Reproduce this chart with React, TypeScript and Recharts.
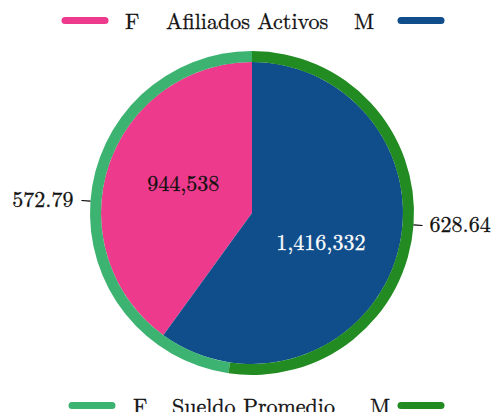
import React from 'react';
import { PieChart, Pie, Cell } from 'recharts';

const sexes = ['F', 'M'];
const afiliados = [944538, 1416332];
const sueldos = [572.79, 628.64];

const innerColors = ['#EE3A8C', '#104E8B'];
const outerColors = ['#3CB371', '#228B22'];
const innerTextColors = ['#111111', '#ffffff'];

const FONT = "'Latin Modern Roman', 'Liberation Serif', serif";
const RAD = Math.PI / 180;

const innerData = sexes.map((s, i) => ({ name: s, value: afiliados[i] }));
const outerData = sexes.map((s, i) => ({ name: s, value: sueldos[i] }));

const InnerLabel = (props: any) => {
  const { cx, cy, midAngle, index, value } = props;
  const a = (midAngle - 5.5) * RAD;
  const r = 75;
  const x = cx + r * Math.cos(a);
  const y = cy - r * Math.sin(a);
  return (
    <text x={x} y={y + 7.5} fill={innerTextColors[index]} textAnchor="middle"
      fontFamily={FONT} fontSize={22} stroke={innerTextColors[index]} strokeWidth={0.3}>
      {value.toLocaleString('en-US')}
    </text>
  );
};

const OuterLabel = (props: any) => {
  const { cx, cy, midAngle, outerRadius, value } = props;
  const a = midAngle * RAD;
  const cos = Math.cos(a);
  const sin = Math.sin(a);
  const x1 = cx + outerRadius * cos;
  const y1 = cy - outerRadius * sin;
  const x2 = cx + (outerRadius + 9) * cos;
  const y2 = cy - (outerRadius + 9) * sin;
  const right = cos >= 0;
  return (
    <g>
      <line x1={x1} y1={y1} x2={x2} y2={y2} stroke="#000" strokeWidth={1.2} />
      <text x={x2 + (right ? 7 : -8)} y={y2 + 6.5} textAnchor={right ? 'start' : 'end'}
        fill="#111" fontFamily={FONT} fontSize={22} stroke="#111" strokeWidth={0.3}>
        {value.toFixed(2)}
      </text>
    </g>
  );
};

interface LegendProps {
  y: number;
  colors: string[];
  title: string;
  xs: number[];
}

// fila de leyenda: marcador, F, titulo, M, marcador
const LegendRow = ({ y, colors, title, xs }: LegendProps) => (
  <g fill="#111" stroke="#111" strokeWidth={0.3} fontFamily={FONT} fontSize={22}>
    <line x1={xs[0] + 3} x2={xs[0] + 43} y1={y} y2={y} stroke={colors[0]} strokeWidth={7} strokeLinecap="round" />
    <text x={xs[1]} y={y + 8}>{sexes[0]}</text>
    <text x={xs[2]} y={y + 8}>{title}</text>
    <text x={xs[3]} y={y + 8}>{sexes[1]}</text>
    <line x1={xs[4] + 3} x2={xs[4] + 43} y1={y} y2={y} stroke={colors[1]} strokeWidth={7} strokeLinecap="round" />
  </g>
);

export default function App() {
  return (
    <div style={{ position: 'absolute', left: 0, top: 0, width: 493, height: 412, overflow: 'hidden', background: '#fff' }}>
      <PieChart width={493} height={412} margin={{ top: 0, right: 0, bottom: 0, left: 0 }}>
        <Pie data={innerData} dataKey="value" cx={252} cy={213} outerRadius={151} startAngle={90} endAngle={450}
          stroke="none" label={InnerLabel} labelLine={false} isAnimationActive={false}>
          {innerData.map((d, i) => <Cell key={d.name} fill={innerColors[i]} />)}
        </Pie>
        <Pie data={outerData} dataKey="value" cx={252} cy={213} innerRadius={151} outerRadius={162} startAngle={90} endAngle={450}
          stroke="none" label={OuterLabel} labelLine={false} isAnimationActive={false}>
          {outerData.map((d, i) => <Cell key={d.name} fill={outerColors[i]} />)}
        </Pie>
      </PieChart>
      <svg width={493} height={412} style={{ position: 'absolute', left: 0, top: 0, pointerEvents: 'none' }}>
        <LegendRow y={20.5} colors={innerColors} title="Afiliados Activos" xs={[62, 125, 166, 354, 398]} />
        <LegendRow y={405.5} colors={outerColors} title="Sueldo Promedio" xs={[69, 133, 172, 370, 398]} />
      </svg>
    </div>
  );
}
